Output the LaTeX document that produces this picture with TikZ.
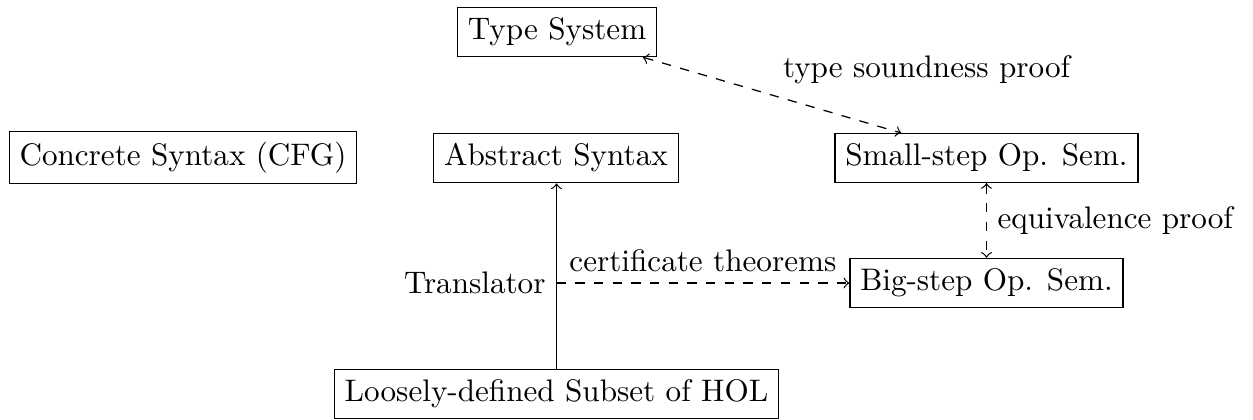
\documentclass[tikz,border=0pt]{standalone}
\usetikzlibrary{arrows.meta}
\begin{document}
\begin{tikzpicture}[x=0.321pt,y=-0.321pt,
  box/.style={draw,rectangle,inner sep=0.3333em},
  lbl/.style={inner sep=0.3333em},
  proofarrow/.style={dashed,<->,>=to},
  certarrow/.style={dashed,->,>=to}]
\useasboundingbox (0,0) rectangle (1253,419);
\node[box] (ts)  at (557,32)    {Type System};
\node[box] (cs)  at (183,157.5) {Concrete Syntax (CFG)};
\node[box] (as)  at (556,158)   {Abstract Syntax};
\node[box] (ss)  at (986.5,158) {Small-step Op. Sem.};
\node[box] (bs)  at (986.5,283) {Big-step Op. Sem.};
\node[box] (hol) at (556.5,394) {Loosely-defined Subset of HOL};
% translator: vertical arrow from the HOL subset up to the abstract syntax
\coordinate (tr) at (556.5,283);
\draw[->,>=to] (hol.north -| tr) -- (as.south -| tr);
\node[lbl,anchor=east] (trl) at (tr) {Translator};
\draw[certarrow] (tr) -- node[lbl,above] (ct) {certificate theorems} (bs.west |- tr);
\draw[proofarrow] (ts) -- node[lbl,above right,pos=0.5] (tsp) {type soundness proof} (ss);
\draw[proofarrow] (ss) -- node[lbl,right] (eqp) {equivalence proof} (bs);
\end{tikzpicture}
\end{document}
